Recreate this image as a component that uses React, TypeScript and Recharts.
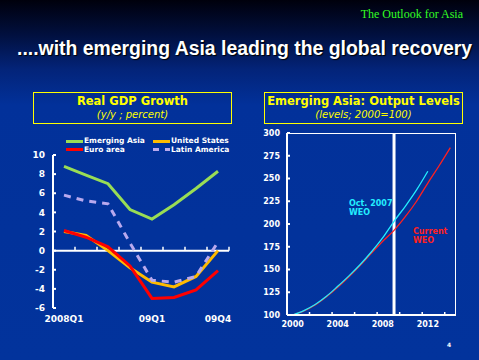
import { ComposedChart, Line, Scatter, XAxis, YAxis, ReferenceLine } from "recharts";

// left panel: real GDP growth, y/y percent
const quarters = ["2008Q1", "08Q2", "08Q3", "08Q4", "09Q1", "09Q2", "09Q3", "09Q4"];
const shownQuarters = [0, 4, 7]; // positions that carry a label
const emergingAsia = [8.8, 7.9, 7.0, 4.3, 3.3, 4.8, 6.5, 8.3];
const unitedStates = [2.0, 1.6, 0.0, -1.8, -3.3, -3.8, -2.7, 0.0];
const euroArea = [2.1, 1.4, 0.4, -1.6, -5.0, -4.9, -4.1, -2.1];
const latinAmerica = [5.8, 5.2, 4.9, 0.8, -3.1, -3.3, -2.7, 0.9];
const gdpTicks = [-6, -4, -2, 0, 2, 4, 6, 8, 10];

// right panel: emerging Asia output levels, 2000=100
const years = [2000, 2001, 2002, 2003, 2004, 2005, 2006, 2007, 2008, 2009, 2010, 2011, 2012, 2013, 2014];
const shownYears = [2000, 2004, 2008, 2012];
const oct2007Weo = [100, 104.8, 111.5, 120.5, 131.5, 143, 155.5, 169.5, 185, 203, 219.5, 237.5, 258, null, null];
const currentWeo = [100, 104.5, 111, 120, 130.5, 142, 154.5, 168, 181, 193, 208, 225, 245, 264, 284];
const levelTicks = [100, 125, 150, 175, 200, 225, 250, 275, 300];

const gdpRows = quarters.map((q, i) => ({
  i,
  q,
  asia: emergingAsia[i],
  us: unitedStates[i],
  euro: euroArea[i],
  latam: latinAmerica[i],
}));
// small marks on the zero line, between quarters
const quarterBreaks = quarters.map((_, i) => ({ i: i + 0.5, z: 0 }));

const outputRows = years.map((year, i) => ({
  year,
  oct: oct2007Weo[i],
  cur: currentWeo[i],
}));
// tick marks every other year boundary, plus the labelled years
const yearBreaks = years.filter((_, i) => i > 0 && i % 2 === 0).map((y) => y - 0.5);
const yearTicks = [...shownYears, ...yearBreaks].sort((a, b) => a - b);

const AXIS_FONT = "'DejaVu Sans', Verdana, sans-serif";
const tickStyle = { fill: "#ffffff", fontSize: 9, fontWeight: "bold", fontFamily: AXIS_FONT };

const legendItems = [
  { name: "Emerging Asia", color: "#99dd55", dash: false, x: 66, y: 141 },
  { name: "United States", color: "#ffbb00", dash: false, x: 153, y: 141 },
  { name: "Euro area", color: "#ff0000", dash: false, x: 66, y: 149.5 },
  { name: "Latin America", color: "#b9a9ee", dash: true, x: 153, y: 149.5 },
];

function TitleBox({ left, title, sub }: { left: number; title: string; sub: string }) {
  return (
    <div
      style={{
        position: "absolute",
        left,
        top: 92,
        width: 197,
        height: 28,
        border: "1.5px solid #ffff00",
        color: "#ffff00",
        textAlign: "center",
        fontFamily: AXIS_FONT,
        lineHeight: "13px",
        paddingTop: 2,
      }}
    >
      <div style={{ fontSize: 11.5, fontWeight: "bold" }}>{title}</div>
      <div style={{ fontSize: 10, fontStyle: "italic" }}>{sub}</div>
    </div>
  );
}

const ZeroMark = (p: any) =>
  p.cx == null ? <g /> : <line x1={p.cx} x2={p.cx} y1={p.cy} y2={p.cy - 4} stroke="#ffffff" strokeWidth={1.5} />;

const YearTick = (p: any) => {
  const v = p.payload.value;
  if (shownYears.includes(v)) {
    return (
      <text x={p.x} y={p.y + 12} textAnchor="middle" fill="#ffffff" fontSize={8} fontWeight="bold" fontFamily={AXIS_FONT}>
        {v}
      </text>
    );
  }
  return <line x1={p.x} x2={p.x} y1={p.y} y2={p.y - 3} stroke="#ffffff" strokeWidth={1.5} />;
};

export default function App() {
  return (
    <div
      style={{
        position: "absolute",
        left: 0,
        top: 0,
        width: 479,
        height: 360,
        overflow: "hidden",
        background:
          "linear-gradient(to bottom, #00000c 0px, #01103f 35px, #03247a 70px, #02319a 105px, #02339c 360px)",
      }}
    >
      <div
        style={{
          position: "absolute",
          right: 16,
          top: 7,
          color: "#33ff22",
          fontFamily: "'Liberation Serif', serif",
          fontSize: 12,
        }}
      >
        The Outlook for Asia
      </div>
      <div
        style={{
          position: "absolute",
          left: 17,
          top: 37,
          color: "#ffffff",
          fontFamily: "'Liberation Sans', Arial, sans-serif",
          fontWeight: "bold",
          fontSize: 19.4,
          whiteSpace: "nowrap",
          textShadow: "1px 1px 1px #000000",
        }}
      >
        ....with emerging Asia leading the global recovery
      </div>

      <TitleBox left={33} title="Real GDP Growth" sub="(y/y ; percent)" />
      <TitleBox left={264} title="Emerging Asia: Output Levels" sub="(levels; 2000=100)" />

      {legendItems.map((it) => (
        <div key={it.name}>
          <div
            style={{
              position: "absolute",
              left: it.x,
              top: it.y - 1.5,
              width: 17,
              height: 3,
              background: it.dash
                ? `linear-gradient(to right, ${it.color} 0 6px, transparent 6px 12px, ${it.color} 12px 17px)`
                : it.color,
            }}
          />
          <div
            style={{
              position: "absolute",
              left: it.x + 18,
              top: it.y - 5,
              color: "#ffffff",
              fontFamily: AXIS_FONT,
              fontWeight: "bold",
              fontSize: 7.5,
              lineHeight: "10px",
              whiteSpace: "nowrap",
            }}
          >
            {it.name}
          </div>
        </div>
      ))}

      <div style={{ position: "absolute", left: 0, top: 140 }}>
        <ComposedChart width={240} height={200} data={gdpRows} margin={{ top: 15, right: 11, bottom: 0, left: 0 }}>
          <XAxis
            dataKey="i"
            type="number"
            domain={[-0.5, quarters.length - 0.5]}
            ticks={shownQuarters}
            interval={0}
            axisLine={false}
            tickLine={false}
            height={32}
            tick={tickStyle}
            tickFormatter={(v: number) => quarters[v] ?? ""}
          />
          <YAxis
            domain={[-6, 10]}
            ticks={gdpTicks}
            interval={0}
            width={53}
            axisLine={{ stroke: "#ffffff", strokeWidth: 2 }}
            tickLine={{ stroke: "#ffffff", strokeWidth: 2 }}
            tickSize={-3}
            tickMargin={11}
            tick={tickStyle}
          />
          <ReferenceLine y={0} stroke="#ffffff" strokeWidth={2} />
          <Scatter data={quarterBreaks} dataKey="z" shape={ZeroMark} isAnimationActive={false} />
          <Line dataKey="asia" stroke="#99dd55" strokeWidth={3} dot={false} type="linear" isAnimationActive={false} />
          <Line dataKey="us" stroke="#ffbb00" strokeWidth={3} dot={false} type="linear" isAnimationActive={false} />
          <Line
            dataKey="latam"
            stroke="#b9a9ee"
            strokeWidth={3}
            strokeDasharray="7 6"
            dot={false}
            type="linear"
            isAnimationActive={false}
          />
          <Line dataKey="euro" stroke="#ff0000" strokeWidth={3} dot={false} type="linear" isAnimationActive={false} />
        </ComposedChart>
      </div>

      {/* white frame round the output-levels plot area */}
      <div
        style={{
          position: "absolute",
          left: 287,
          top: 133,
          width: 169,
          height: 182,
          boxSizing: "border-box",
          border: "1.5px solid #ffffff",
        }}
      />

      <div style={{ position: "absolute", left: 250, top: 120 }}>
        <ComposedChart width={229} height={215} data={outputRows} margin={{ top: 13, right: 23, bottom: 0, left: 0 }}>
          <XAxis
            dataKey="year"
            type="number"
            domain={[years[0] - 0.5, years[years.length - 1] + 0.5]}
            ticks={yearTicks}
            interval={0}
            axisLine={{ stroke: "#ffffff", strokeWidth: 2 }}
            tickLine={false}
            tickSize={0}
            tickMargin={0}
            height={20}
            tick={YearTick}
          />
          <YAxis
            domain={[100, 300]}
            ticks={levelTicks}
            interval={0}
            width={37}
            axisLine={{ stroke: "#ffffff", strokeWidth: 2 }}
            tickLine={{ stroke: "#ffffff", strokeWidth: 2 }}
            tickSize={-3}
            tickMargin={10}
            tick={{ ...tickStyle, fontSize: 8 }}
          />
          <ReferenceLine x={2009} stroke="#ffffff" strokeWidth={3} />
          <Line dataKey="cur" stroke="#ff2020" strokeWidth={1.3} dot={false} type="monotone" isAnimationActive={false} />
          <Line dataKey="oct" stroke="#22eeff" strokeWidth={1.3} dot={false} type="monotone" isAnimationActive={false} />
        </ComposedChart>
      </div>

      <div
        style={{
          position: "absolute",
          left: 349,
          top: 199,
          color: "#22eeff",
          fontFamily: AXIS_FONT,
          fontWeight: "bold",
          fontSize: 8,
          lineHeight: "9px",
        }}
      >
        Oct. 2007
        <br />
        WEO
      </div>
      <div
        style={{
          position: "absolute",
          left: 413,
          top: 227,
          color: "#ff2020",
          fontFamily: AXIS_FONT,
          fontWeight: "bold",
          fontSize: 8,
          lineHeight: "9px",
        }}
      >
        Current
        <br />
        WEO
      </div>
      <div
        style={{
          position: "absolute",
          left: 447,
          top: 341,
          color: "#ffffff",
          fontFamily: AXIS_FONT,
          fontWeight: "bold",
          fontSize: 6,
        }}
      >
        4
      </div>
    </div>
  );
}
